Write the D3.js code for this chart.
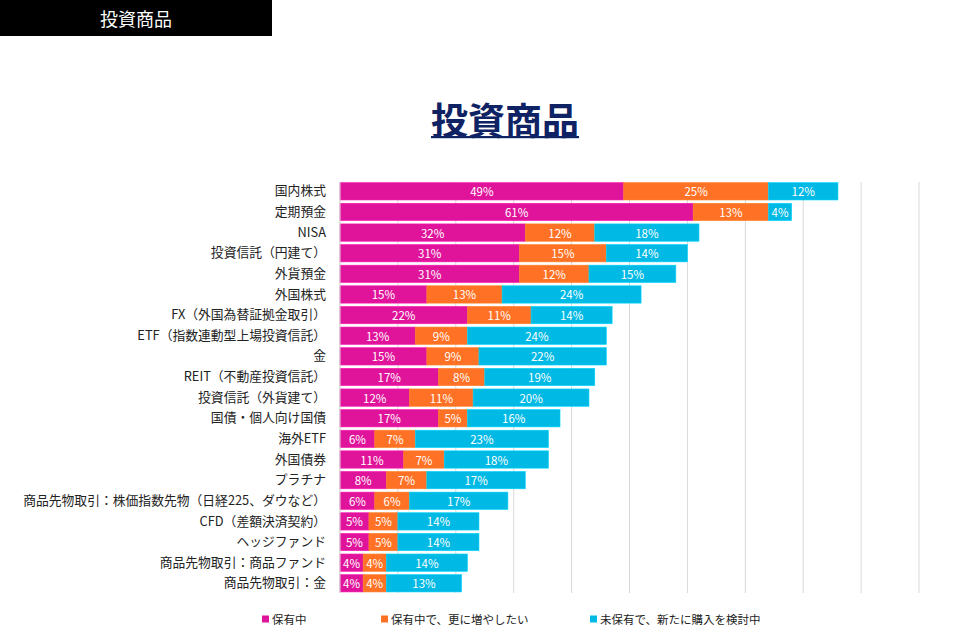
<!DOCTYPE html>
<html>
<head>
<meta charset="utf-8">
<script src="https://cdn.jsdelivr.net/npm/d3@7"></script>
<style>
  html, body { margin: 0; padding: 0; background: #fff; }
  svg { display: block; font-family: "Noto Sans CJK JP", "Noto Sans", sans-serif; }
</style>
</head>
<body>
<svg id="chart" width="957" height="636"></svg>
<script>
const categories = [
  "国内株式", "定期預金", "NISA", "投資信託（円建て）", "外貨預金", "外国株式",
  "FX（外国為替証拠金取引）", "ETF（指数連動型上場投資信託）", "金", "REIT（不動産投資信託）",
  "投資信託（外貨建て）", "国債・個人向け国債", "海外ETF", "外国債券", "プラチナ",
  "商品先物取引：株価指数先物（日経225、ダウなど）", "CFD（差額決済契約）", "ヘッジファンド",
  "商品先物取引：商品ファンド", "商品先物取引：金"
];
const holding   = [49, 61, 32, 31, 31, 15, 22, 13, 15, 17, 12, 17, 6, 11, 8, 6, 5, 5, 4, 4];
const holdingMore = [25, 13, 12, 15, 12, 13, 11, 9, 9, 8, 11, 5, 7, 7, 7, 6, 5, 5, 4, 4];
const considering = [12, 4, 18, 14, 15, 24, 14, 24, 22, 19, 20, 16, 23, 18, 17, 17, 14, 14, 14, 13];
const seriesNames = ["保有中", "保有中で、更に増やしたい", "未保有で、新たに購入を検討中"];
const colors = ["#E0149B", "#FF7124", "#00B9E4"];
const xTicks = [0, 10, 20, 30, 40, 50, 60, 70, 80, 90, 100];
const headerText = "投資商品";
const titleText = "投資商品";

const svg = d3.select("#chart");

// header box
svg.append("rect").attr("x", 0).attr("y", 0).attr("width", 272).attr("height", 36).attr("fill", "#000");
svg.append("text").attr("x", 136).attr("y", 18).attr("text-anchor", "middle")
  .attr("dominant-baseline", "central").attr("fill", "#fff").attr("font-size", 18)
  .text(headerText);

// title
const title = svg.append("text").attr("x", 505).attr("y", 119).attr("text-anchor", "middle")
  .attr("dominant-baseline", "central").attr("fill", "#0F2263").attr("font-size", 37)
  .attr("font-weight", "bold").text(titleText);
const tb = title.node().getBBox();
svg.append("rect").attr("x", tb.x).attr("y", 136).attr("width", tb.width).attr("height", 2.2)
  .attr("fill", "#0F2263");

// scales
const x = d3.scaleLinear().domain([0, 100]).range([340, 919]);
const y = d3.scaleBand().domain(categories).range([181, 593.6]).paddingInner(0.16).paddingOuter(0.08);

// gridlines
svg.append("g").selectAll("line").data(xTicks).join("line")
  .attr("x1", d => x(d)).attr("x2", d => x(d))
  .attr("y1", 182).attr("y2", 593)
  .attr("stroke", "#d9d9d9").attr("stroke-width", 1);

// stack
const rows = categories.map((c, i) => ({cat: c, s0: holding[i], s1: holdingMore[i], s2: considering[i]}));
const stack = d3.stack().keys(["s0", "s1", "s2"])(rows);

const g = svg.append("g");
stack.forEach((layer, li) => {
  const lg = g.append("g");
  lg.selectAll("rect").data(layer).join("rect")
    .attr("x", d => x(d[0]))
    .attr("y", d => y(d.data.cat))
    .attr("width", d => x(d[1]) - x(d[0]))
    .attr("height", y.bandwidth())
    .attr("fill", colors[li])
    .attr("stroke", d3.color(colors[li]).brighter(0.4))
    .attr("stroke-width", 0.6);
  lg.selectAll("text").data(layer).join("text")
    .attr("x", d => (x(d[0]) + x(d[1])) / 2)
    .attr("y", d => y(d.data.cat) + y.bandwidth() / 2)
    .attr("text-anchor", "middle").attr("dominant-baseline", "central")
    .attr("fill", "#fff").attr("font-size", 11.5)
    .text(d => (d[1] - d[0]) + "%");
});

// axis line at left
svg.append("line").attr("x1", 340).attr("x2", 340).attr("y1", 182).attr("y2", 593)
  .attr("stroke", "#d9d9d9");

// category labels
const yAxis = d3.axisLeft(y).tickSize(0).tickPadding(14);
const ya = svg.append("g").attr("transform", "translate(340,0)").call(yAxis);
ya.select(".domain").remove();
ya.selectAll("text").attr("font-size", 12.8).attr("fill", "#222")
  .attr("font-family", "\"Noto Sans CJK JP\", sans-serif");

// legend
const legendX = [262, 381, 590];
const lgd = svg.append("g");
seriesNames.forEach((n, i) => {
  lgd.append("rect").attr("x", legendX[i]).attr("y", 615.5).attr("width", 7).attr("height", 7).attr("fill", colors[i]);
  lgd.append("text").attr("x", legendX[i] + 10).attr("y", 619).attr("dominant-baseline", "central")
    .attr("font-size", 11.5).attr("fill", "#222").text(n);
});
</script>
</body>
</html>
